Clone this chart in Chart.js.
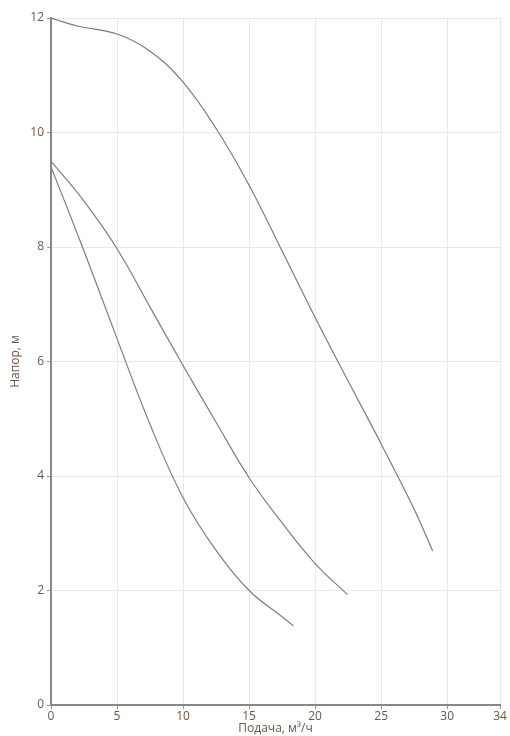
<!DOCTYPE html>
<html>
<head>
<meta charset="utf-8">
<script src="https://cdn.jsdelivr.net/npm/chart.js@4"></script>
<style>
  html, body { margin: 0; padding: 0; background: #fff; }
  #wrap { width: 510px; height: 736px; }
</style>
</head>
<body>
<div id="wrap"><canvas id="pumpChart" width="510" height="736"></canvas></div>
<script>
// Характеристики насоса: подача (м³/ч) / напор (м)
const curve1X = [0, 2, 5, 7.5, 10, 12.5, 15, 17.5, 20, 22.5, 25, 27.5, 28.9];
const curve1Y = [12, 11.86, 11.72, 11.42, 10.88, 10.07, 9.08, 7.93, 6.77, 5.66, 4.56, 3.42, 2.69];

const curve2X = [0, 2.5, 5, 7.5, 10, 12.5, 15, 17.5, 20, 22.45];
const curve2Y = [9.5, 8.8, 7.97, 6.95, 5.93, 4.94, 3.97, 3.18, 2.47, 1.93];

const curve3X = [0, 2.5, 5, 7.5, 10, 12.5, 15, 17.5, 18.35];
const curve3Y = [9.4, 7.93, 6.4, 4.9, 3.62, 2.7, 2.0, 1.54, 1.385];

const xTicks = [0, 5, 10, 15, 20, 25, 30, 34];
const yTicks = [0, 2, 4, 6, 8, 10, 12];

const toPoints = (xs, ys) => xs.map((x, i) => ({ x: x, y: ys[i] }));

const lineStyle = {
    borderColor: '#7d7d7d',
    borderWidth: 1.2,
    pointRadius: 0,
    fill: false,
    tension: 0.4
};

const textColor = '#6b5648';
Chart.defaults.font.family = '"Open Sans", sans-serif';
Chart.defaults.font.size = 12;

const ctx = document.getElementById('pumpChart').getContext('2d');
new Chart(ctx, {
    type: 'line',
    data: {
        datasets: [
            Object.assign({ data: toPoints(curve1X, curve1Y) }, lineStyle),
            Object.assign({ data: toPoints(curve2X, curve2Y) }, lineStyle),
            Object.assign({ data: toPoints(curve3X, curve3Y) }, lineStyle)
        ]
    },
    options: {
        responsive: false,
        animation: false,
        layout: {
            padding: { top: 18, right: 10, left: 0, bottom: 0 }
        },
        scales: {
            x: {
                type: 'linear',
                min: 0,
                max: 34,
                afterBuildTicks: (scale) => { scale.ticks = xTicks.map(v => ({ value: v })); },
                afterFit: (scale) => { scale.height = 31; },
                grid: { color: '#e6e9f3', tickColor: '#999', tickLength: 4, lineWidth: 1 },
                border: { color: '#888', width: 2 },
                ticks: { color: textColor, padding: 0, maxRotation: 0 },
                title: {
                    display: true,
                    text: 'Подача, м³/ч',
                    color: textColor,
                    padding: { top: 0, bottom: 0 }
                }
            },
            y: {
                min: 0,
                max: 12,
                afterBuildTicks: (scale) => { scale.ticks = yTicks.map(v => ({ value: v })); },
                afterFit: (scale) => { scale.width = 51; },
                grid: { color: '#e6e9f3', tickColor: '#999', tickLength: 4, lineWidth: 1 },
                border: { color: '#888', width: 2 },
                ticks: { color: textColor, padding: 3 },
                title: {
                    display: true,
                    text: 'Напор, м',
                    color: textColor,
                    padding: { top: 8, bottom: 0 }
                }
            }
        },
        plugins: {
            legend: { display: false },
            tooltip: { enabled: false }
        }
    }
});
</script>
</body>
</html>
